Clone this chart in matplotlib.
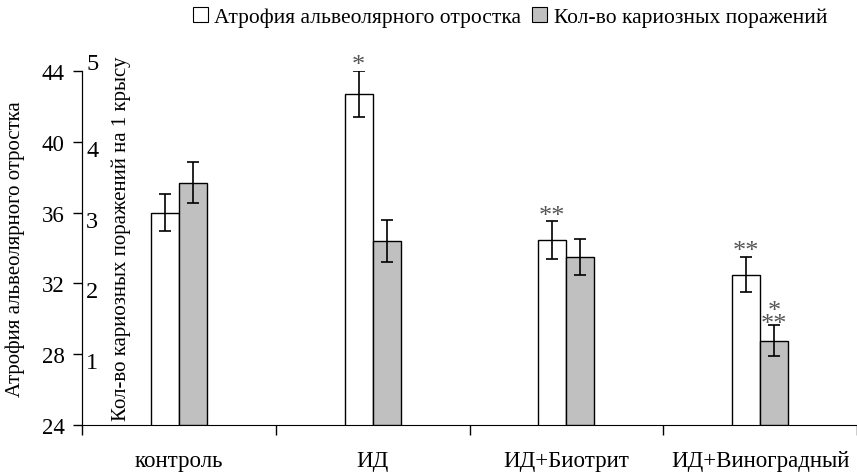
import matplotlib
matplotlib.use("Agg")

import matplotlib.pyplot as plt
from matplotlib.patches import Patch
from matplotlib.transforms import ScaledTranslation
import numpy as np

categories = ["контроль", "ИД", "ИД+Биотрит", "ИД+Виноградный"]
atrophy = [36.0, 42.7, 34.45, 32.5]
atrophy_err = [1.05, 1.3, 1.05, 1.0]
caries = [3.42, 2.6, 2.37, 1.19]
caries_err = [0.29, 0.3, 0.25, 0.22]
atrophy_marks = ["", "*", "**", "**"]
caries_marks = ["", "", "", "**"]

plt.rcParams["font.family"] = ["Liberation Serif", "DejaVu Serif"]
TICK_FS = 16.5
LABEL_FS = 15
LEG_FS = 15.5
STAR_FS = 19

fig = plt.figure(figsize=(8.57, 4.77), dpi=100)
ax = fig.add_axes([0.0957, 0.107, 0.9043, 0.742])
ax2 = ax.twinx()

x = np.arange(len(categories))
w = 0.145
err_kw = dict(ecolor="black", elinewidth=1.2, capsize=4.5, capthick=1.2)

ax.bar(x - w / 2, atrophy, w, yerr=atrophy_err, color="white",
       edgecolor="black", linewidth=1.0, error_kw=err_kw, zorder=2)
ax2.bar(x + w / 2, caries, w, yerr=caries_err, color="#c0c0c0",
        edgecolor="black", linewidth=1.0, error_kw=err_kw, zorder=2)

# significance marks
for i, m in enumerate(atrophy_marks):
    if m:
        ax.annotate(m, (x[i] - w / 2, atrophy[i] + atrophy_err[i]),
                    xytext=(0, 4), textcoords="offset points",
                    ha="center", va="center", fontsize=STAR_FS, color="#555555")
for i, m in enumerate(caries_marks):
    if m:
        top = caries[i] + caries_err[i]
        ax2.annotate(m, (x[i] + w / 2, top), xytext=(0, 1),
                     textcoords="offset points", ha="center", va="center",
                     fontsize=STAR_FS, color="#555555")
        ax2.annotate("*", (x[i] + w / 2, top), xytext=(0, 10),
                     textcoords="offset points", ha="center", va="center",
                     fontsize=STAR_FS, color="#555555")

ax.set_xlim(-0.5, 3.5)
ax.set_ylim(24, 44)
ax.set_yticks([24, 28, 32, 36, 40, 44])
ax.set_xticks(x)
ax.set_xticklabels(categories, fontsize=TICK_FS)
ax.set_xticks(np.arange(-0.5, 3.6, 1), minor=True)
ax.tick_params(axis="x", which="major", length=0, pad=18)
ax.tick_params(axis="x", which="minor", length=7, width=1, direction="out")
ax.tick_params(axis="y", length=6.5, width=1, direction="out", labelsize=TICK_FS, pad=6)
ax.set_ylabel("Атрофия альвеолярного отростка", fontsize=LABEL_FS)
ax.yaxis.set_label_coords(-0.073, 0.5)
for s in ["top", "right"]:
    ax.spines[s].set_visible(False)

ax2.set_ylim(0, 5)
ax2.set_yticks([1, 2, 3, 4, 5])
ax2.spines["right"].set_position(("axes", 0))
for s in ["top", "left", "bottom"]:
    ax2.spines[s].set_visible(False)
ax2.tick_params(axis="y", length=0, labelsize=17.5, pad=3)
# right-scale labels sit a little below their ticks, the top one above
for tick, v in zip(ax2.yaxis.get_major_ticks(), [1, 2, 3, 4, 5]):
    dy = 0.10 if v == 5 else -0.06
    tick.label2.set_transform(tick.label2.get_transform()
                              + ScaledTranslation(0, dy, fig.dpi_scale_trans))
ax2.set_ylabel("Кол-во кариозных поражений на 1 крысу", fontsize=LABEL_FS,
               rotation=90)
ax2.yaxis.set_label_coords(0.038, 0.53)

handles = [Patch(facecolor="white", edgecolor="black", linewidth=0.8),
           Patch(facecolor="#c0c0c0", edgecolor="black", linewidth=0.8)]
fig.legend(handles, ["Атрофия альвеолярного отростка", "Кол-во кариозных поражений"],
           loc="center", bbox_to_anchor=(0.595, 0.962), ncol=2, frameon=False,
           fontsize=LEG_FS, handlelength=0.7, handleheight=0.7, handletextpad=0.3,
           columnspacing=0.5)

fig.savefig("out.png", dpi=100)
